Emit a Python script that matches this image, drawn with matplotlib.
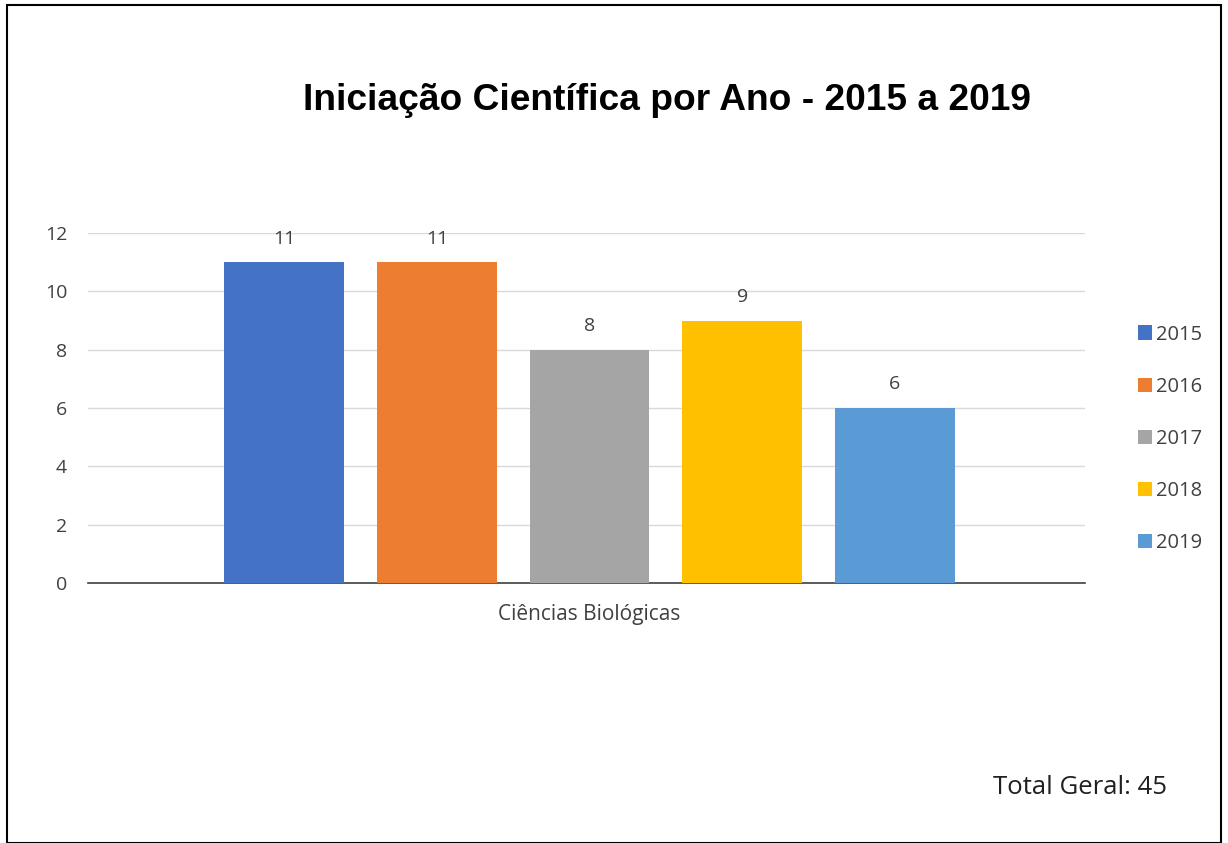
import matplotlib.pyplot as plt
from matplotlib.patches import Rectangle

# Data
category = 'Ciências Biológicas'
years = ['2015', '2016', '2017', '2018', '2019']
counts = [11, 11, 8, 9, 6]
colors = ['#4472C4', '#ED7D31', '#A5A5A5', '#FFC000', '#5B9BD5']
total_label = 'Total Geral: 45'

plt.rcParams['font.family'] = ['Open Sans', 'DejaVu Sans']

fig = plt.figure(figsize=(12.28, 8.43), dpi=100)
W, H = 1228, 843

# outer frame
fig.patches.append(Rectangle((7 / W, 0), 1214 / W, 838 / H, transform=fig.transFigure,
                             fill=False, edgecolor='black', linewidth=1.5))

# axes: x 88..1085 px, y 233..583 px
ax = fig.add_axes([88 / W, 1 - 583 / H, (1085 - 88) / W, (583 - 233) / H])

xs = list(range(len(years)))
bars = ax.bar(xs, counts, width=0.786, color=colors, label=years, zorder=3)
for b, v in zip(bars, counts):
    ax.text(b.get_x() + b.get_width() / 2, v + 0.5, str(v), ha='center', va='bottom',
            fontsize=14, color='#404040')

ax.set_xlim(-1.286, 5.247)
ax.set_ylim(0, 12)
ax.set_yticks(range(0, 13, 2))
ax.yaxis.grid(True, color='#D9D9D9', linewidth=1, zorder=0)
ax.tick_params(axis='y', length=0, labelsize=14, labelcolor='#404040', pad=15)
ax.set_xticks([2])
ax.set_xticklabels([category])
ax.tick_params(axis='x', length=0, labelsize=15, labelcolor='#404040', pad=15)
for s in ['top', 'right', 'left']:
    ax.spines[s].set_visible(False)
ax.spines['bottom'].set_color('#404040')
ax.spines['bottom'].set_linewidth(1.2)

fig.text(667 / W, 1 - 100 / H, 'Iniciação Científica por Ano - 2015 a 2019',
         ha='center', va='center', fontsize=26.7, fontweight='bold',
         family=['Liberation Sans', 'DejaVu Sans'], color='black')

fig.legend(handles=bars, labels=years, loc='center left',
           bbox_to_anchor=(1120 / W, 1 - 439 / H), frameon=False, fontsize=14.5,
           handlelength=0.7, handleheight=0.7, handletextpad=0.2, labelspacing=1.6,
           labelcolor='#404040')

fig.text(993 / W, 1 - 787 / H, total_label, ha='left', va='center', fontsize=18.5,
         color='#202020')

fig.savefig('out.png', dpi=100)
